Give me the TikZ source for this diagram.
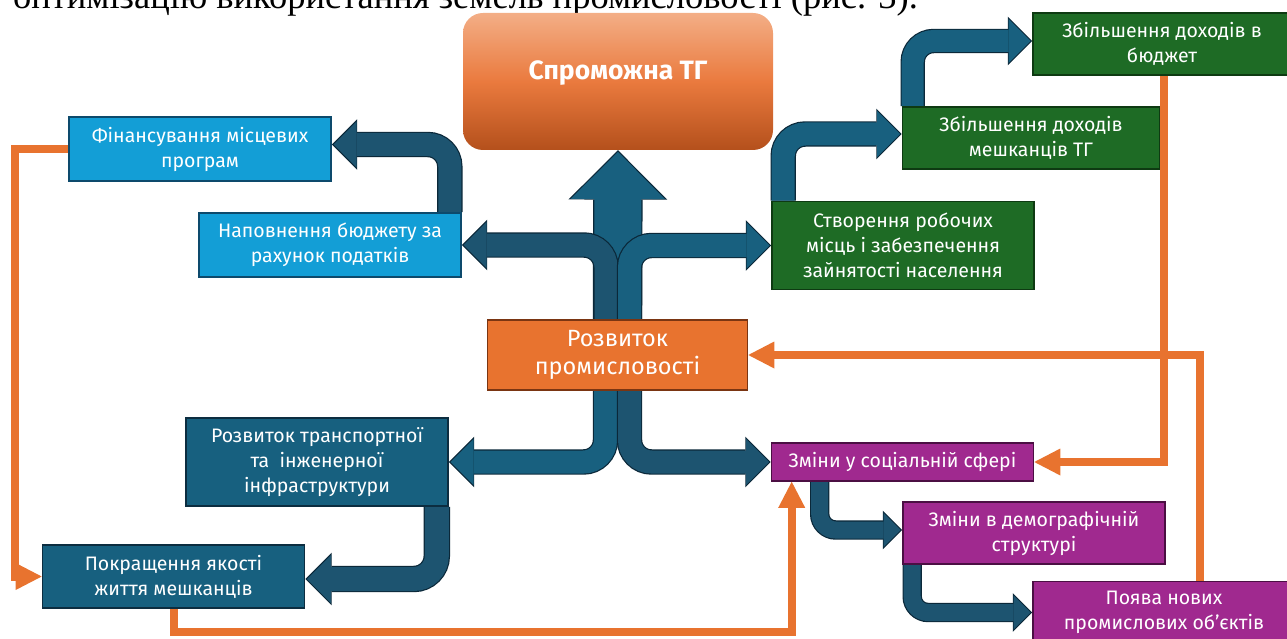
\documentclass[tikz,border=0pt]{standalone}
\usepackage{fontspec}
\setmainfont{Fira Sans}
\newfontfamily\leadfont{Liberation Serif}
\usetikzlibrary{arrows.meta,backgrounds}
\definecolor{orng}{HTML}{E8732F}
\definecolor{orngrim}{HTML}{7A3512}
\definecolor{tgtop}{HTML}{F3AE86}
\definecolor{tgmid}{HTML}{EA7A3E}
\definecolor{tgbot}{HTML}{B4501C}
\definecolor{sky}{HTML}{139ED6}
\definecolor{skyrim}{HTML}{0D4A6C}
\definecolor{grn}{HTML}{1E6B25}
\definecolor{grnrim}{HTML}{0E3A12}
\definecolor{deep}{HTML}{17607F}
\definecolor{deeprim}{HTML}{0C2D40}
\definecolor{pur}{HTML}{A0298F}
\definecolor{purrim}{HTML}{4B0F43}
\definecolor{arrlight}{HTML}{18607F}
\definecolor{arrdark}{HTML}{1D5470}
\definecolor{arrrim}{HTML}{0B2839}

% block arrow: fill colour, shaft width (pt), path
\newcommand{\fatarrow}[3]{%
  \pgfmathsetmacro{\fatrim}{#2+2.4}%
  \pgfmathsetmacro{\fatheadrim}{2*#2+4.8}%
  \pgfmathsetmacro{\fathead}{2*#2}%
  \pgfmathsetmacro{\fatbend}{#2-1}%
  \draw[draw=arrrim, line width=\fatrim pt, rounded corners=\fatbend pt,
    -{Triangle[length=\fatrim pt, width=\fatheadrim pt, line width=0pt]}] #3;
  \draw[draw=#1, line width=#2pt, rounded corners=\fatbend pt, shorten >=1.7pt,
    -{Triangle[length=#2pt, width=\fathead pt, line width=0pt]}] #3;
}

\begin{document}
\begin{tikzpicture}[x=1pt, y=-1pt,
    box/.style={draw=#1, line width=1.6pt, minimum width=262pt, inner sep=0pt,
      text=white, align=center, font=\fontsize{19.5}{25}\selectfont},
    skybox/.style={box=skyrim, fill=sky},
    grnbox/.style={box=grnrim, fill=grn},
    deepbox/.style={box=deeprim, fill=deep},
    purbox/.style={box=purrim, fill=pur},
    orgbox/.style={box=orngrim, fill=orng, minimum width=260pt, minimum height=70pt,
      font=\fontsize{23.5}{28}\selectfont},
    tgbox/.style={rounded corners=20pt, top color=tgtop, bottom color=tgbot,
      middle color=tgmid, minimum width=310pt, minimum height=137pt, text=white,
      font=\bfseries\fontsize{26.5}{30}\selectfont, text depth=22pt},
    fb/.style={draw=orng, line width=8pt,
      -{Triangle[length=26pt, width=27pt, line width=0pt]}},
  ]
  \useasboundingbox (0,0) rectangle (1287,639);

  \node[anchor=base west, inner sep=0pt, font=\leadfont\fontsize{36.5}{40}\selectfont] (lead) at (13,8.5)
    {оптимізацію використання земель промисловості (рис. 3).};

  \node[tgbox] (tg) at (618,81.5) {Спроможна ТГ};
  \node[orgbox] (razv) at (617.5,355) {Розвиток\\промисловості};

  \node[skybox, minimum height=64pt] (finans) at (200,149) {Фінансування місцевих\\програм};
  \node[skybox, minimum height=64pt] (napov) at (330,245) {Наповнення бюджету за\\рахунок податків};

  \node[grnbox, minimum height=88pt] (stvor) at (903,245.5)
    {Створення робочих\\місць і забезпечення\\зайнятості населення};
  \node[grnbox, minimum height=62pt, minimum width=257pt] (dohmesh) at (1031,138)
    {Збільшення доходів\\мешканців ТГ};
  \node[grnbox, minimum height=62pt, minimum width=258pt] (dohbud) at (1162,44)
    {Збільшення доходів в\\бюджет};

  \node[deepbox, minimum height=88pt] (transp) at (317,462)
    {Розвиток транспортної\\та\ \ інженерної\\інфраструктури};
  \node[deepbox, minimum height=63pt] (pokr) at (173.5,576.5) {Покращення якості\\життя мешканців};

  \node[purbox, minimum height=38pt] (social) at (902.5,462) {Зміни у соціальній сфері};
  \node[purbox, minimum height=62pt] (demog) at (1034,533) {Зміни в демографічній\\структурі};
  \node[purbox, minimum height=62pt] (poyava) at (1164,612.5) {Поява нових\\промислових об’єктів};

  \begin{scope}[on background layer]
    % feedback lines
    \draw[fb] (finans.west) -- ++(-53,0) |- (pokr.west);
    \draw[fb] (pokr.south) -- ++(0,23) -| ([xshift=21pt]social.south west);
    \draw[fb] ([xshift=2pt]dohbud.south) |- (social.east);
    \draw[fb] ([xshift=36pt]poyava.north) |- (razv.east);

    % block arrows
    \fatarrow{arrlight}{47}{(razv.north) -- (tg.south)}
    \fatarrow{arrdark}{23}{([xshift=-11.5pt]razv.north) |- (napov.east)}
    \fatarrow{arrlight}{23}{([xshift=12pt]razv.north) |- (stvor.west)}
    \fatarrow{arrlight}{23}{([xshift=-12pt]razv.south) |- (transp.east)}
    \fatarrow{arrdark}{23}{([xshift=12pt]razv.south) |- (social.west)}
    \fatarrow{arrdark}{23}{([xshift=-12pt]napov.north east) |- ([yshift=4.5pt]finans.east)}
    \fatarrow{arrlight}{23}{([xshift=12pt]stvor.north west) |- ([yshift=4pt]dohmesh.west)}
    \fatarrow{arrlight}{22}{([xshift=11pt]dohmesh.north west) |- ([yshift=3pt]dohbud.west)}
    \fatarrow{arrdark}{24}{([xshift=-12pt]transp.south east) |- ([yshift=-2.5pt]pokr.east)}
    \fatarrow{arrdark}{17}{([xshift=49pt]social.south west) |- ([yshift=3pt]demog.west)}
    \fatarrow{arrdark}{17}{([xshift=10pt]demog.south west) |- (poyava.west)}
  \end{scope}
\end{tikzpicture}
\end{document}
